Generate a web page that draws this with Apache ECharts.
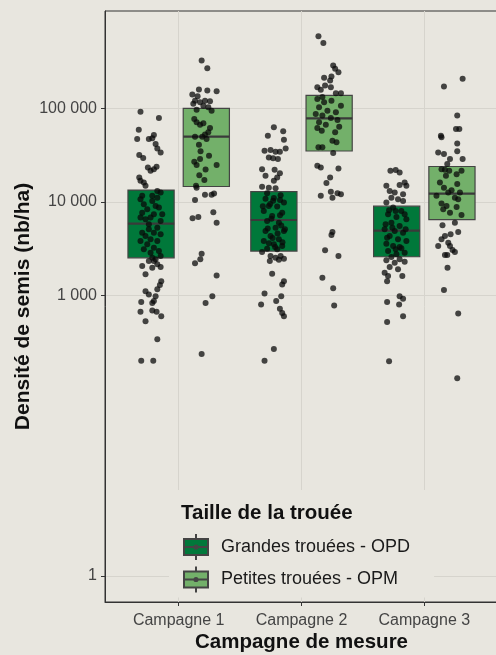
<!DOCTYPE html>
<html>
<head>
<meta charset="utf-8">
<script src="https://cdn.jsdelivr.net/npm/echarts@6/dist/echarts.min.js"></script>
<style>
html,body{margin:0;padding:0;background:#E8E6DF;}
#main{width:496px;height:655px;}
</style>
</head>
<body>
<div id="main"></div>
<script>
// ---- data ----
const categories = ['Campagne 1', 'Campagne 2', 'Campagne 3'];
const groupNames = ['Grandes trouées - OPD', 'Petites trouées - OPM'];
const yTicks = [1, 1000, 10000, 100000];

// box statistics (nb/ha) per campaign
const opdQ1 = [2520, 2980, 2590];
const opdMedian = [5850, 6400, 4920];
const opdQ3 = [13360, 12900, 8990];
const opmQ1 = [14600, 35000, 6460];
const opmMedian = [49800, 78200, 12280];
const opmQ3 = [100000, 138000, 23900];

// individual plots: [jitter, density]
const c1Opd = [[-0.086,92000],[0.064,79000],[-0.10,59000],[0.023,52000],[-0.113,47000],[-0.018,47000],[0.01,48000],[0.037,41600],[0.051,37300],[0.078,33800],[-0.096,31700],[-0.064,29400],[-0.026,23300],[-0.004,21500],[0.023,22400],[0.045,23700],[-0.096,18200],[-0.086,16800],[-0.059,16100],[-0.045,14900],
[0.051,13100],[0.078,12600],[-0.072,11600],[-0.086,10700],
[-0.059,9450],[0.01,10250],[0.037,9060],[-0.031,8350],[0.064,8690],[-0.072,7670],[0.023,7380],[-0.004,6790],[-0.045,6520],[0.078,6250],[0.051,5300],[-0.018,5090],[-0.072,4690],[0.023,4690],[0.078,4500],[-0.045,4320],[-0.004,3980],[0.051,3820],[-0.086,3820],[-0.031,3520],[0.023,3240],[0.064,2980],[-0.004,2860],[-0.059,3110],[0.078,2630],[0.01,2520],[0.037,2430],[-0.018,2330],[0.051,2150],[0.01,11600],[0.051,11100],[-0.086,6790],[0.091,7380],[-0.018,5770],
[-0.072,2060],[0.023,2330],[-0.045,1680],[0.01,1970],[0.078,2010],[0.083,1420],[0.072,1290],[0.051,1160],[-0.045,1110],[-0.018,1020],[0.037,980],[0.023,870],[0.01,830],[-0.08,850],[-0.086,670],[0.01,690],[0.045,670],[0.083,600],[-0.045,530],[0.051,340],[-0.08,200],[0.018,200]];

const c1Opm = [[-0.038,326000],[0.008,269000],[-0.06,159000],[0.008,155000],[0.084,152000],[-0.114,141000],[-0.071,135000],[-0.092,121000],[-0.051,116000],[-0.011,121000],[0.03,119000],[-0.106,112000],[-0.024,107000],[0.016,103000],[0.043,94600],[-0.079,96400],
[-0.098,77100],[-0.079,71000],[-0.051,67000],[-0.024,69200],[0.03,61800],[0.016,55400],[-0.011,52400],[-0.092,49800],[-0.033,49800],[0.002,47100],[-0.06,40900],[-0.047,34700],[0.022,31200],[-0.051,28700],[-0.098,26900],[-0.079,24800],[0.084,24800],[-0.006,22200],[-0.057,19300],[-0.016,17100],[-0.084,14900],[-0.079,14200],
[-0.092,10500],[-0.011,11900],[0.043,11900],[0.063,12300],[0.057,7750],[-0.112,6680],[-0.065,6900],[0.084,6000],[-0.038,2790],[-0.049,2430],[-0.092,2200],[0.084,1630],[0.049,980],[-0.006,830],[-0.038,236]];

const c2Opd = [[0,62700],[0.076,56800],[-0.049,51100],[0.082,46300],[-0.076,35300],[-0.027,35900],[0.014,34400],[0.049,34400],[0.096,37300],[-0.041,29900],[-0.006,29200],[0.033,28700],[-0.096,22400],[0.006,22000],[0.049,20300],[-0.068,19000],[0.027,18200],[0,16800],[-0.096,14500],[-0.041,14200],[0.014,14000],
[-0.055,12400],[0.055,11800],[-0.068,10800],[-0.006,10300],[0.082,9820],[-0.041,9060],[0.027,8910],[-0.082,8000],[0.068,7670],[-0.014,7080],[-0.055,6250],[0.041,6000],[0.014,5300],[-0.068,4890],[0.082,4890],[-0.027,4320],[0.041,3980],[-0.082,3820],[0,3520],[0.068,3370],[-0.055,3150],[0.027,3110],[-0.096,2910],
[0,11000],[-0.03,9500],[0.05,7200],[-0.02,6600],[0.06,5600],[-0.05,5200],[0.03,4600],[-0.01,4100],[0.07,3700],[-0.04,3600],[0.01,3300],[0.09,5100],[-0.09,9000],[0.05,10500],
[-0.027,2630],[0.014,2520],[0.055,2630],[0.082,2460],[-0.033,2330],[0.041,2400],[-0.014,1700],[0.082,1420],[0.068,1310],[-0.076,1050],[0.06,980],[-0.104,800],[0.019,870],[0.049,720],[0.068,650],[0.082,600],[0,267],[-0.076,200]];

const c2Opm = [[-0.087,589000],[-0.047,500000],[0.033,288000],[0.049,265000],[0.076,244000],[0.019,219000],[-0.041,212000],[0.008,199000],[-0.096,168000],[-0.033,176000],[0.014,168000],[-0.068,158000],[0.055,145000],[0.096,145000],[-0.055,132000],[-0.096,126000],
[0.019,121000],[-0.041,116000],[0.096,107000],[-0.082,103000],[-0.014,94600],[0.055,90800],[-0.109,87300],[-0.055,83700],[0.014,79000],[0.068,75300],[-0.082,71000],[-0.027,67000],[0.082,63800],[-0.096,61800],[-0.06,57800],[0.049,55400],[0.027,45100],[0.06,43300],[-0.087,38300],[-0.055,38300],[0.033,33300],
[-0.096,24300],[-0.068,23300],[0.076,22800],[0.008,18200],[-0.022,15900],[0.014,12800],[0.068,12400],[0.096,12100],[-0.068,11600],[0.027,11100],[0.027,4770],[0.019,4430],[-0.033,3030],[0.076,2630],[-0.055,1540],[0.033,1190],[0.041,780]];

const c3Opd = [[-0.051,21500],[-0.008,21900],[0.024,20600],[-0.084,14900],[-0.057,13100],[0.065,16100],[0.079,14900],[0.024,15200],[-0.016,12600],[0.052,12100],[-0.043,11100],[0.011,10700],[-0.084,9820],
[-0.029,8690],[0.038,8000],[-0.07,7380],[-0.002,6900],[0.079,6520],[-0.043,6000],[0.024,5520],[-0.098,5090],[-0.016,4890],[0.052,4690],[-0.057,4320],[0.011,3980],[0.079,3820],[-0.084,3570],[-0.029,3370],[0.038,3190],[-0.07,2980],[0.065,2860],[-0.002,2750],[-0.043,2570],
[0.052,10250],[-0.062,8140],[0.065,7380],[-0.035,5300],[-0.078,4140],[0.024,3290],[-0.008,8000],[-0.09,5770],[0.073,5090],[-0.008,3110],
[0.024,2430],[-0.084,2370],[-0.016,2230],[0.065,2290],[-0.057,2010],[0.011,1900],[-0.098,1750],[0.046,1610],[-0.07,1610],[-0.078,1420],[0.024,980],[0.052,920],[-0.078,850],[0.02,800],[0.052,600],[-0.078,520],[-0.062,197]];

const c3Opm = [[0.087,207000],[-0.065,171000],[0.043,83700],[0.033,60300],[0.06,60300],[-0.09,51100],[-0.085,49000],[0.043,42200],[0.043,34700],[-0.112,33800],[-0.065,32500],[0.087,28700],[-0.016,28700],[-0.038,25400],[-0.085,22400],[-0.057,22000],[-0.022,21500],
[0.078,21500],[0.038,19800],[-0.049,19000],[-0.098,16100],[0.043,15500],[-0.065,14200],[-0.003,13300],[-0.03,12600],[0.065,12600],[-0.126,11600],[0.024,11100],[0.051,10700],[-0.085,9590],[-0.044,9060],[0.038,8830],[-0.016,7670],[0.078,7260],[-0.071,8350],
[-0.077,5620],[0.024,6000],[0.051,4770],[-0.011,4500],[-0.057,4320],[-0.085,3980],[-0.03,3660],[-0.112,3370],[-0.016,3370],[0.005,3060],[0.024,2910],[-0.057,2700],[-0.038,2700],[-0.036,1970],[-0.065,1140],[0.051,640],[0.043,130]];

// ---- layout / style ----
const BG = '#E8E6DF';
const FONT = '"Liberation Sans", Arial, sans-serif';
const OFFSETS = [-0.225, 0.225];
const HALF = 0.188;
const COLORS = ['#00783A', '#73B06A'];

const boxStats = [
  categories.map((c, i) => [i + 1, opdQ1[i], opdMedian[i], opdQ3[i]]),
  categories.map((c, i) => [i + 1, opmQ1[i], opmMedian[i], opmQ3[i]])
];
const pointSets = [[c1Opd, c2Opd, c3Opd], [c1Opm, c2Opm, c3Opm]];

function fmt(v) {
  return String(Math.round(v)).replace(/\B(?=(\d{3})+(?!\d))/g, ' ');
}

function boxSeries(g) {
  return {
    type: 'custom',
    name: groupNames[g],
    z: 2,
    itemStyle: { color: COLORS[g], borderColor: '#444', borderWidth: 1 },
    encode: { x: 0, y: [1, 2, 3] },
    data: boxStats[g],
    renderItem: function (params, api) {
      const x = api.value(0) + OFFSETS[g];
      const lo = api.coord([x - HALF, api.value(1)]);
      const hi = api.coord([x + HALF, api.value(3)]);
      const m1 = api.coord([x - HALF, api.value(2)]);
      const m2 = api.coord([x + HALF, api.value(2)]);
      return {
        type: 'group',
        children: [
          { type: 'rect', shape: { x: lo[0], y: hi[1], width: hi[0] - lo[0], height: lo[1] - hi[1] },
            style: { fill: COLORS[g], stroke: '#444', lineWidth: 1.2 } },
          { type: 'line', shape: { x1: m1[0], y1: m1[1], x2: m2[0], y2: m2[1] },
            style: { stroke: '#3a3a3a', lineWidth: 2.2 } }
        ]
      };
    }
  };
}

function pointSeries(g) {
  const data = [];
  pointSets[g].forEach((pts, ci) => {
    pts.forEach(p => data.push([ci + 1 + OFFSETS[g] + p[0], p[1]]));
  });
  return {
    type: 'scatter',
    z: 3,
    symbolSize: 6,
    silent: true,
    itemStyle: { color: 'rgba(8,8,8,0.92)' },
    data: data
  };
}

const legendIcon = 'path://M0,5L24,5L24,21L0,21ZM12,0L12,5M12,21L12,26M0,13L24,13M10.4,13A1.6,1.6,0,1,0,13.6,13A1.6,1.6,0,1,0,10.4,13Z';

const chart = echarts.init(document.getElementById('main'), null, { renderer: 'canvas' });
chart.setOption({
  backgroundColor: BG,
  animation: false,
  textStyle: { fontFamily: FONT },
  title: {
    text: 'Taille de la trouée',
    left: 176, top: 498,
    textStyle: { fontSize: 20.5, fontWeight: 'bold', color: '#111', fontFamily: FONT }
  },
  legend: {
    orient: 'vertical',
    left: 169, top: 490,
    padding: [43, 24, 4, 14],
    backgroundColor: BG,
    itemWidth: 24, itemHeight: 26, itemGap: 4.5,
    textStyle: { fontSize: 18, color: '#1a1a1a', fontFamily: FONT, padding: [0, 0, 0, 8] },
    data: groupNames.map(n => ({ name: n, icon: legendIcon }))
  },
  grid: {
    left: 105, top: 11, width: 393, height: 591,
    outerBoundsMode: 'none', containLabel: false,
    show: true, borderColor: '#333', borderWidth: 1, backgroundColor: 'transparent'
  },
  xAxis: {
    type: 'value', min: 0.4, max: 3.6,
    name: 'Campagne de mesure', nameLocation: 'middle', nameGap: 30, nameMoveOverlap: false,
    nameTextStyle: { fontSize: 20.5, fontWeight: 'bold', color: '#111', fontFamily: FONT },
    axisLine: { show: true, lineStyle: { color: '#333', width: 1 } },
    axisTick: { show: true, length: 4, customValues: [1, 2, 3], lineStyle: { color: '#333' } },
    axisLabel: { customValues: [1, 2, 3], margin: 11, fontSize: 16, color: '#444', fontFamily: FONT,
      formatter: v => categories[Math.round(v) - 1] || '' },
    splitLine: { show: true, lineStyle: { color: '#D6D4CD', width: 1 } }
  },
  yAxis: {
    type: 'log', logBase: 10, min: 0.526, max: 1100000,
    name: 'Densité de semis (nb/ha)', nameLocation: 'middle', nameGap: 71, nameMoveOverlap: false,
    nameTextStyle: { fontSize: 21, fontWeight: 'bold', color: '#111', fontFamily: FONT },
    axisLine: { show: true, lineStyle: { color: '#333', width: 1 } },
    axisTick: { show: true, length: 4, customValues: yTicks, lineStyle: { color: '#333' } },
    axisLabel: { customValues: yTicks, margin: 8, fontSize: 16, color: '#444', fontFamily: FONT, formatter: fmt },
    splitLine: { show: true, lineStyle: { color: '#D6D4CD', width: 1 } },
    minorTick: { show: false }, minorSplitLine: { show: false }
  },
  series: [boxSeries(0), boxSeries(1), pointSeries(0), pointSeries(1)]
});
</script>
</body>
</html>
